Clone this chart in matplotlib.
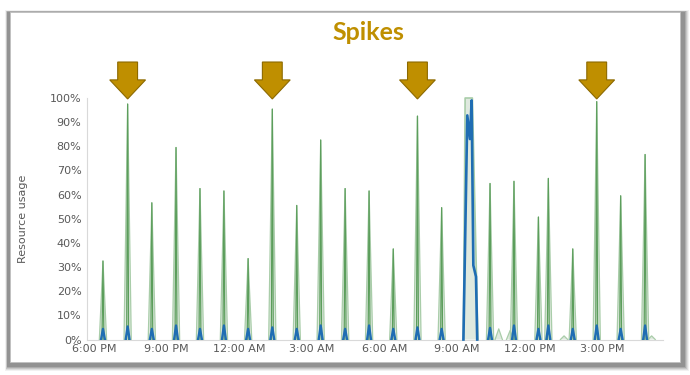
import matplotlib
matplotlib.use("Agg")
import matplotlib.pyplot as plt
from matplotlib.patches import Polygon, Rectangle

# ---------------- data (hours after 6:00 PM) ----------------
spike_times = [0.37, 1.39, 2.39, 3.39, 4.38, 5.37, 6.37, 7.37, 8.38, 9.37,
               10.38, 11.37, 12.37, 13.37, 14.37,
               16.37, 17.36, 18.37, 18.78, 19.79, 20.78, 21.77, 22.78]
spike_peaks = [32.5, 97.5, 56.6, 79.5, 62.5, 61.5, 33.5, 95.4, 55.5, 82.6,
               62.5, 61.5, 37.5, 92.5, 54.6,
               64.6, 65.5, 50.7, 66.7, 37.5, 98.5, 59.5, 76.6]
avg_peaks = [4.4, 5.4, 4.4, 5.8, 4.4, 5.8, 4.4, 5.0, 4.4, 5.8,
             4.4, 5.8, 4.4, 5.0, 4.4,
             4.8, 5.8, 4.4, 5.8, 4.4, 5.8, 4.4, 5.8]
small_times = [16.73, 17.20, 19.43, 23.05]
small_peaks = [4.4, 3.7, 1.5, 1.5]

# sustained high-usage period around 9 AM
plateau_t = [15.27, 15.34, 15.64, 15.87]
plateau_v = [0, 100, 100, 0]
plateau_avg_t = [15.27, 15.43, 15.54, 15.61, 15.68, 15.79, 15.84]
plateau_avg_v = [0, 92.8, 83.0, 99.0, 30.7, 26.0, 0]

arrow_times = [1.39, 7.37, 13.37, 20.78]

x_ticks = [0, 3, 6, 9, 12, 15, 18, 21]
x_labels = ["6:00 PM", "9:00 PM", "12:00 AM", "3:00 AM",
            "6:00 AM", "9:00 AM", "12:00 PM", "3:00 PM"]
y_ticks = list(range(0, 101, 10))
y_labels = [f"{v}%" for v in y_ticks]

# ---------------- styling ----------------
GREEN_LINE = "#5c9e5c"
GREEN_EDGE = "#a9cda9"
GREEN_FILL = "#dfe9df"
BLUE = "#1f6db3"
GOLD = "#BF8F00"
GOLD_EDGE = "#8c6900"
GRAY = "#595959"

fig = plt.figure(figsize=(6.9, 3.75), dpi=100)
fig.patch.set_facecolor("white")

# card with drop shadow (heavier on the right and bottom)
W, H = 690.0, 375.0
cx0, cy0, cx1, cy1 = 10, 12, 680, 362
for g, a in [(4, 0.08), (3, 0.12), (2, 0.16), (1, 0.22), (0, 0.28)]:
    sx0, sy0 = cx0 - 3 - g * 0.5, cy0 - 0.5 - g * 0.3
    sx1, sy1 = cx1 + 5 + g, cy1 + 5 + g
    fig.add_artist(Rectangle((sx0 / W, 1 - sy1 / H), (sx1 - sx0) / W, (sy1 - sy0) / H,
                             transform=fig.transFigure, facecolor="#505050",
                             edgecolor="none", alpha=a, zorder=-20))
fig.add_artist(Rectangle((cx0 / W, 1 - cy1 / H), (cx1 - cx0) / W, (cy1 - cy0) / H,
                         transform=fig.transFigure, facecolor="white",
                         edgecolor="#c0c0c0", lw=0.6, zorder=-10))

ax = fig.add_axes([87 / W, 1 - 339.5 / H, (663 - 87) / W, (339.5 - 98) / H])
ax.set_facecolor("none")

hw_area = 0.15
hw_line = 0.04
hw_blue = 0.08

# green spikes (area + centre line)
for t, v in zip(spike_times + small_times, spike_peaks + small_peaks):
    xs = [t - hw_area, t, t + hw_area]
    ys = [0, v, 0]
    ax.fill_between(xs, ys, 0, facecolor=GREEN_FILL, edgecolor="none", zorder=2)
    ax.plot(xs, ys, color=GREEN_EDGE, lw=0.9, zorder=3)
for t, v in zip(spike_times, spike_peaks):
    ax.plot([t - hw_line, t, t + hw_line], [0, v, 0], color=GREEN_LINE, lw=0.9, zorder=4)

ax.fill_between(plateau_t, plateau_v, 0, facecolor=GREEN_FILL, edgecolor="none", zorder=2)
ax.plot(plateau_t, plateau_v, color=GREEN_EDGE, lw=1.2, zorder=3, clip_on=False,
        solid_joinstyle="round")

# blue series
for t, v in zip(spike_times, avg_peaks):
    ax.plot([t - hw_blue, t, t + hw_blue], [0, v, 0], color=BLUE, lw=1.7, zorder=5)
ax.plot(plateau_avg_t, plateau_avg_v, color=BLUE, lw=1.9, zorder=5, clip_on=False)

# arrows
shaft_hw, head_hw = 0.41, 0.74
for t in arrow_times:
    pts = [(t - shaft_hw, 114.9), (t + shaft_hw, 114.9), (t + shaft_hw, 107.5),
           (t + head_hw, 107.5), (t, 99.6), (t - head_hw, 107.5),
           (t - shaft_hw, 107.5)]
    ax.add_patch(Polygon(pts, closed=True, facecolor=GOLD, edgecolor=GOLD_EDGE,
                         lw=0.8, clip_on=False, zorder=10))

ax.set_xlim(-0.29, 23.52)
ax.set_ylim(0, 100)
ax.set_xticks(x_ticks)
ax.set_xticklabels(x_labels)
ax.set_yticks(y_ticks)
ax.set_yticklabels(y_labels)
ax.tick_params(axis="both", length=0, colors=GRAY, labelsize=8)
ax.tick_params(axis="y", pad=4)
ax.tick_params(axis="x", pad=3)
for s in ["top", "right"]:
    ax.spines[s].set_visible(False)
for s in ["left", "bottom"]:
    ax.spines[s].set_color("#d9d9d9")
    ax.spines[s].set_linewidth(0.8)
ax.set_ylabel("Resource usage", color=GRAY, fontsize=8)
ax.yaxis.set_label_coords(-0.102, 0.5)

fig.text(368 / W, 1 - 32 / H, "Spikes", ha="center", va="center",
         fontsize=18, fontweight="bold", color=GOLD, family=["Lato", "DejaVu Sans"])

fig.savefig("out.png", dpi=100)
